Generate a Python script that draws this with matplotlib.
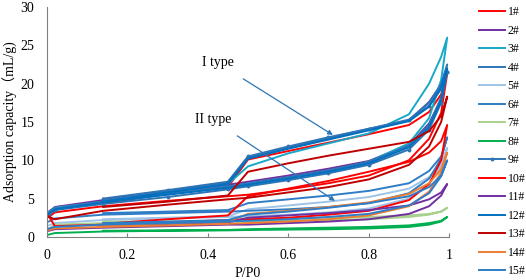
import matplotlib
matplotlib.use("Agg")
import matplotlib.pyplot as plt
from matplotlib.ticker import FuncFormatter

plt.rcParams['font.family'] = ['Liberation Serif', 'Noto Sans CJK SC']

# relative pressure grids (adsorption up, desorption down)
p_ads = [0.005, 0.02, 0.14, 0.3, 0.45, 0.5, 0.6, 0.7, 0.8, 0.9, 0.95, 0.98, 0.995]
p_des = [0.995, 0.98, 0.95, 0.9, 0.8, 0.7, 0.6, 0.5, 0.45, 0.3, 0.14]

samples = ['1#', '2#', '3#', '4#', '5#', '6#', '7#', '8#', '9#', '10#', '11#', '12#', '13#', '14#', '15#']
colors = ['#FF0000', '#7030A0', '#17A9C9', '#2E75B6', '#9DC3E6', '#2F7DC6', '#A9D18E', '#00B050',
          '#2E75B6', '#FF0000', '#7030A0', '#0070C0', '#C00000', '#ED7D31', '#2F7DC6']

ads_1 = [2.6, 3.2, 4.0, 4.7, 5.3, 5.5, 6.2, 7.0, 8.0, 10.0, 12.8, 16.2, 21.3]
des_1 = [21.3, 18.6, 16.3, 14.6, 13.4, 12.3, 11.2, 10.1, 6.5, 5.6, 4.4]
ads_2 = [3.3, 3.9, 4.8, 5.8, 6.8, 7.2, 8.0, 8.9, 9.9, 12.0, 14.8, 18.0, 21.8]
des_2 = [21.8, 19.8, 17.6, 15.2, 14.0, 12.8, 11.6, 10.4, 7.1, 6.0, 4.9]
ads_3 = [3.2, 3.8, 4.6, 5.6, 6.5, 6.9, 7.7, 8.6, 9.8, 12.2, 15.5, 20.5, 26.0]
des_3 = [26.0, 23.5, 20.0, 16.0, 13.5, 12.2, 10.9, 9.2, 6.9, 5.9, 4.7]
ads_4 = [3.1, 3.7, 4.6, 5.6, 6.6, 7.0, 7.8, 8.7, 9.8, 11.9, 14.6, 18.2, 22.5]
des_4 = [22.5, 20.0, 17.5, 15.3, 14.1, 12.9, 11.7, 10.3, 7.0, 5.9, 4.7]
ads_5 = [1.5, 1.8, 2.2, 2.4, 2.6, 2.7, 2.9, 3.2, 3.7, 5.0, 6.9, 9.2, 11.6]
des_5 = [11.6, 9.5, 7.8, 6.3, 5.2, 4.6, 4.1, 3.6, 2.7, 2.5, 2.3]
ads_6 = [2.0, 2.4, 2.9, 3.1, 3.3, 3.4, 3.6, 3.9, 4.4, 5.7, 7.6, 10.2, 13.0]
des_6 = [13.0, 10.5, 8.6, 7.0, 6.0, 5.4, 4.9, 4.4, 3.5, 3.3, 3.1]
ads_7 = [1.0, 1.6, 1.8, 1.9, 2.0, 2.0, 2.1, 2.2, 2.3, 2.6, 2.9, 3.3, 3.8]
des_7 = [3.8, 3.3, 3.0, 2.8, 2.6, 2.5, 2.4, 2.3, 2.1, 2.0, 2.0]
ads_8 = [0.3, 0.5, 0.7, 0.8, 0.85, 0.9, 0.95, 1.0, 1.1, 1.3, 1.6, 2.0, 2.6]
des_8 = [2.6, 2.1, 1.8, 1.5, 1.3, 1.2, 1.1, 1.0, 0.9, 0.85, 0.8]
ads_9 = [2.9, 3.5, 4.3, 5.2, 6.2, 6.6, 7.4, 8.3, 9.4, 11.4, 14.0, 17.5, 21.5]
des_9 = [21.5, 19.3, 17.1, 15.2, 14.1, 13.0, 11.8, 10.5, 7.2, 6.1, 5.0]
ads_10 = [2.7, 1.4, 1.6, 1.9, 2.2, 2.3, 2.5, 2.9, 3.4, 4.8, 6.9, 10.0, 14.6]
des_10 = [14.6, 12.5, 11.0, 9.8, 8.5, 7.3, 6.3, 5.3, 2.8, 2.3, 1.7]
ads_11 = [0.8, 1.0, 1.2, 1.4, 1.6, 1.6, 1.8, 2.0, 2.3, 3.0, 4.0, 5.4, 6.9]
des_11 = [6.9, 5.8, 4.9, 4.1, 3.5, 3.1, 2.8, 2.5, 1.9, 1.7, 1.5]
ads_12 = [3.0, 3.6, 4.5, 5.5, 6.4, 6.8, 7.6, 8.5, 9.6, 11.7, 14.3, 17.8, 22.0]
des_12 = [22.0, 19.5, 17.0, 15.1, 13.9, 12.7, 11.5, 10.2, 6.9, 5.8, 4.6]
ads_13 = [2.6, 2.3, 3.4, 4.2, 4.9, 5.1, 5.8, 6.5, 7.5, 9.4, 11.8, 15.0, 18.3]
des_13 = [18.3, 15.8, 13.8, 12.4, 11.5, 10.6, 9.6, 8.5, 5.4, 4.6, 3.9]
ads_14 = [0.9, 1.1, 1.3, 1.5, 1.7, 1.8, 2.0, 2.3, 2.8, 4.0, 5.9, 8.4, 11.0]
des_14 = [11.0, 8.8, 7.0, 5.6, 4.5, 3.9, 3.4, 3.0, 2.0, 1.8, 1.5]
ads_15 = [1.1, 1.3, 1.6, 1.8, 2.0, 2.1, 2.3, 2.6, 3.0, 4.1, 5.7, 7.9, 10.0]
des_15 = [10.0, 8.0, 6.5, 5.3, 4.4, 3.8, 3.3, 2.9, 2.2, 2.0, 1.8]

ads_all = [ads_1, ads_2, ads_3, ads_4, ads_5, ads_6, ads_7, ads_8, ads_9, ads_10, ads_11, ads_12, ads_13, ads_14, ads_15]
des_all = [des_1, des_2, des_3, des_4, des_5, des_6, des_7, des_8, des_9, des_10, des_11, des_12, des_13, des_14, des_15]

fig = plt.figure(figsize=(5.26, 2.8), dpi=100)
ax = fig.add_axes([0.089, 0.154, 0.765, 0.821])

for name, c, a, d in zip(samples, colors, ads_all, des_all):
    x = p_ads + p_des
    y = a + d
    if name == '9#':
        ax.plot(x, y, color=c, lw=1.4, marker='o', ms=1.8, label=name)
    else:
        ax.plot(x, y, color=c, lw=1.4, label=name)

# arrows marking the two isotherm types
ax.annotate('I type', xy=(0.711, 13.3), xytext=(0.425, 22.7), fontsize=10,
            ha='center', va='center',
            arrowprops=dict(arrowstyle='-|>', color='#2E75B6', lw=0.9,
                            mutation_scale=7, shrinkA=9, shrinkB=0))
ax.annotate('II type', xy=(0.716, 4.7), xytext=(0.413, 15.3), fontsize=10,
            ha='center', va='center',
            arrowprops=dict(arrowstyle='-|>', color='#2E75B6', lw=0.9,
                            mutation_scale=7, shrinkA=9, shrinkB=0))

ax.set_xlim(0, 1)
ax.set_ylim(0, 30)
ax.set_xticks([0, 0.2, 0.4, 0.6, 0.8, 1])
ax.set_yticks([0, 5, 10, 15, 20, 25, 30])
ax.xaxis.set_major_formatter(FuncFormatter(lambda v, p: f'{v:g}'))
ax.tick_params(axis='x', direction='in', length=3, color='#808080', labelsize=10, pad=9)
ax.tick_params(axis='y', length=0, labelsize=10, pad=9)
for s in ['top', 'right']:
    ax.spines[s].set_visible(False)
for s in ['left', 'bottom']:
    ax.spines[s].set_color('#808080')
    ax.spines[s].set_linewidth(0.8)

ax.set_xlabel('P/P0', fontsize=10, labelpad=3)
ax.set_ylabel('Adsorption capacity（mL/g)', fontsize=10, labelpad=2)

fig.legend(loc='upper left', bbox_to_anchor=(0.9, 0.998), frameon=False, fontsize=8.5,
           handlelength=2.2, handletextpad=0.2, labelspacing=0.55, borderaxespad=0.1)

fig.savefig('out.png', dpi=100)
